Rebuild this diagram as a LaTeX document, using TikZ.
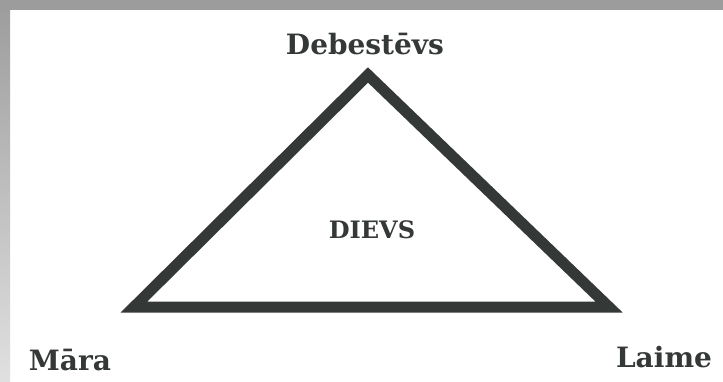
\documentclass[tikz,border=0pt]{standalone}
\usepackage{fontspec}
\setmainfont{DejaVu Serif}
\usetikzlibrary{positioning}
\definecolor{ink}{RGB}{52,56,54}
\definecolor{frame}{RGB}{156,156,156}
\tikzset{
  godname/.style = {font=\fontsize{28}{28}\selectfont\bfseries, text=ink,
                    anchor=base, inner sep=0pt},
  centre/.style  = {font=\fontsize{24}{24}\selectfont\bfseries, text=ink,
                    anchor=base, inner sep=0pt},
  tri/.style     = {draw=ink, line width=11pt, miter limit=10},
}
\begin{document}
\begin{tikzpicture}[x=1pt,y=-1pt]
  \useasboundingbox (0,0) rectangle (723,382);
  % paper and scan edge
  \fill[white] (0,0) rectangle (723,382);
  \shade[top color=frame, bottom color=black!12] (0,0) rectangle (10,382);
  \fill[frame] (0,0) rectangle (723,10);
  % corners of the triangle
  \coordinate (top)   at (368,75);
  \coordinate (left)  at (134,307);
  \coordinate (right) at (609,307);
  \draw[tri] (top) -- (left) -- (right) -- cycle;
  % names
  \node[godname] (debestevs) at (365,55)  {Debestēvs};
  \node[centre]  (dievs)     at (372,239) {DIEVS};
  \node[godname] (mara)      at (70,370)  {Māra};
  \node[godname] (laime)     at (664,367) {Laime};
\end{tikzpicture}
\end{document}
